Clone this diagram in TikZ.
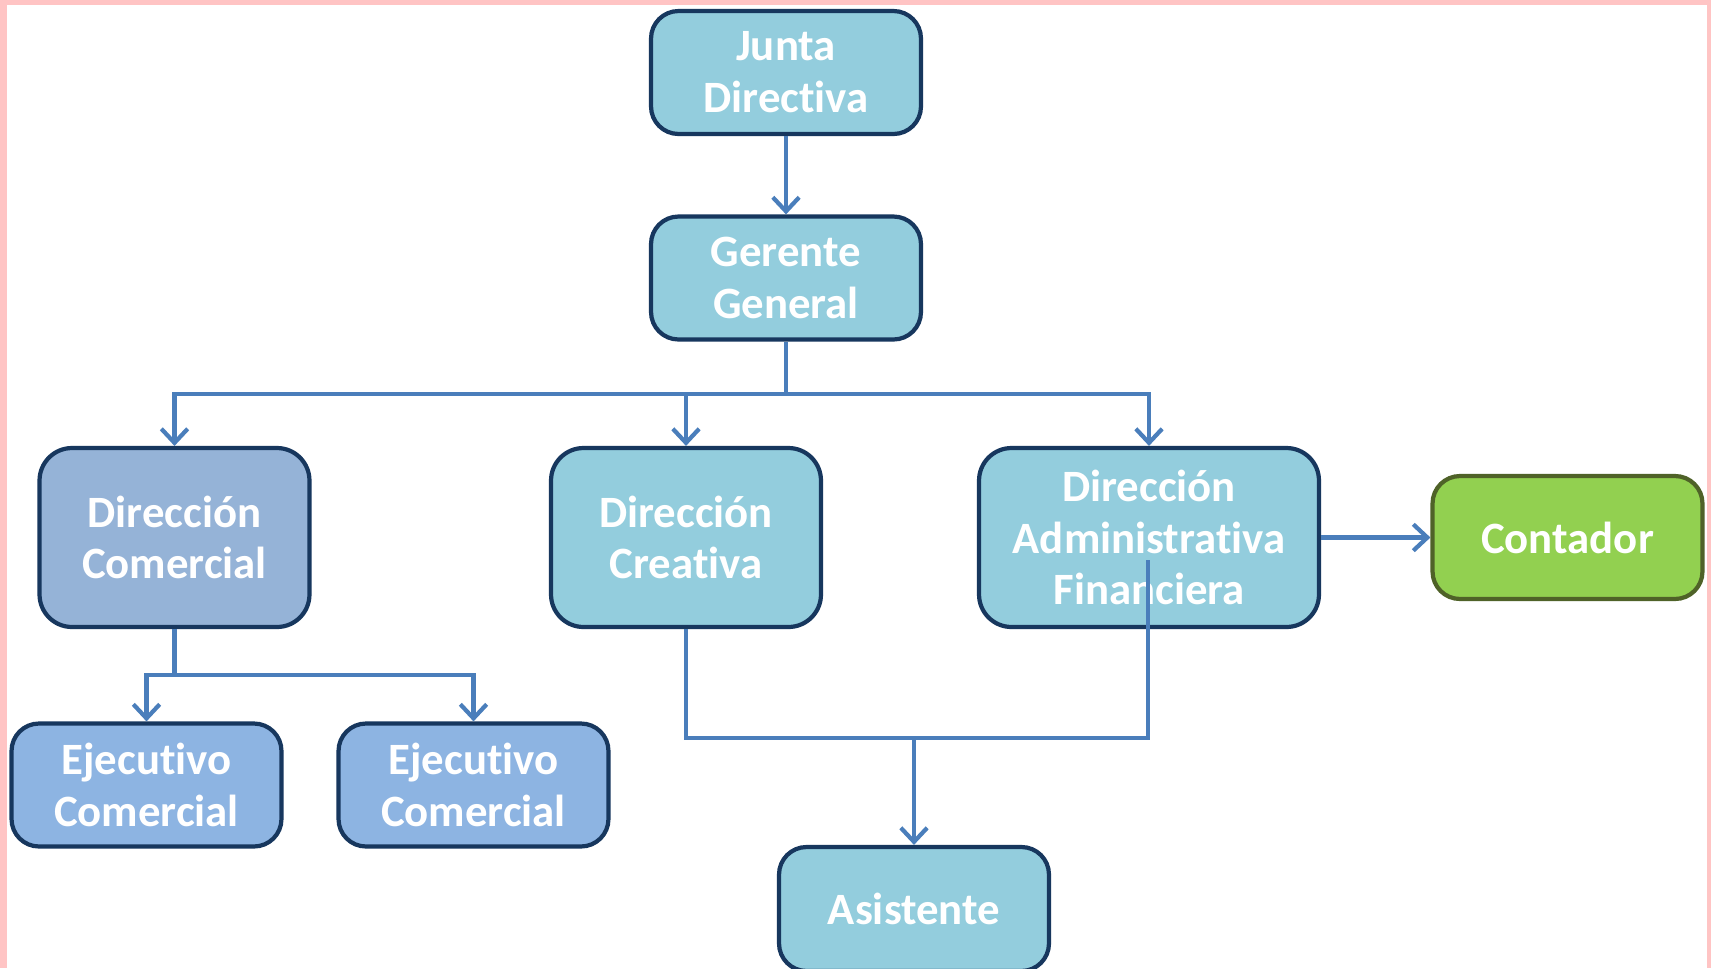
\documentclass[tikz,border=0pt]{standalone}
\usepackage{fontspec}
\setmainfont{Carlito}[Ligatures=NoCommon]
\usetikzlibrary{arrows.meta}
\definecolor{cajaazul}{RGB}{147,205,221}
\definecolor{cajacomer}{RGB}{149,179,215}
\definecolor{cajaejec}{RGB}{141,180,226}
\definecolor{cajaverde}{RGB}{146,208,80}
\definecolor{bordeazul}{RGB}{23,55,94}
\definecolor{bordeverde}{RGB}{79,98,40}
\definecolor{linea}{RGB}{74,126,187}
\definecolor{marco}{RGB}{255,196,196}
\tikzset{
	caja/.style={draw=bordeazul, fill=cajaazul, line width=2.4pt, rounded corners=0.55cm,
		text=white, align=center, inner sep=0pt,
		font=\bfseries\fontsize{25.5}{29.5}\selectfont,
		minimum width=5.4cm, minimum height=2.46cm},
	cajaalta/.style={caja, minimum height=3.58cm, rounded corners=0.65cm},
	enlace/.style={draw=linea, line width=2.4pt},
	flecha/.style={enlace, -{Straight Barb[length=8pt,width=15pt]}}
}

\begin{document}
\begin{tikzpicture}[x=0.02cm, y=-0.02cm]
		%%%%% START %%%%%
		
		\useasboundingbox (0, 0) rectangle (1711, 968);
		\fill[white] (0, 0) rectangle (1711, 968);
		
		% marco rosa
		\fill[marco] (0, 0) rectangle (1711, 5);
		\fill[marco] (0, 0) rectangle (7, 968);
		\fill[marco] (1707, 0) rectangle (1711, 968);
		
		\begin{scope}
		\clip (0, 0) rectangle (1711, 968);
		
		\node[caja] (junta) at (786, 72.5) {Junta\\Directiva};
		\node[caja] (gerente) at (786, 278) {Gerente\\General};
		
		\node[cajaalta, fill=cajacomer] (dircom) at (174.5, 537.5) {Dirección\\Comercial};
		\node[cajaalta] (dircre) at (686, 537.5) {Dirección\\Creativa};
		\node[cajaalta, minimum width=6.8cm] (admfin) at (1149, 537.5) {Dirección\\Administrativa\\Financiera};
		\node[caja, fill=cajaverde, draw=bordeverde] (contador) at (1567.5, 537.5) {Contador};
		
		\node[caja, fill=cajaejec] (ejec1) at (146.5, 785) {Ejecutivo\\Comercial};
		\node[caja, fill=cajaejec] (ejec2) at (473.5, 785) {Ejecutivo\\Comercial};
		
		\node[caja, minimum height=2.48cm] (asist) at (914, 909) {Asistente};
		
		% conectores
		\coordinate (bus1) at (786, 394);
		\coordinate (bus2) at (174.5, 675);
		\coordinate (bus3) at (914, 738);
		\coordinate (fin3) at (1148, 560);
		
		\draw[flecha] (junta) -- (gerente);
		
		\draw[enlace] (gerente) -- (bus1);
		\draw[flecha] (bus1) -| (dircom);
		\draw[flecha] (bus1) -| (dircre);
		\draw[flecha] (bus1) -| (admfin);
		
		\draw[enlace] (dircom) -- (bus2);
		\draw[flecha] (bus2) -| (ejec1);
		\draw[flecha] (bus2) -| (ejec2);
		
		\draw[enlace] (dircre.south) |- (fin3 |- bus3) -- (fin3);
		\draw[flecha] (bus3) -- (asist);
		
		\draw[flecha] (admfin) -- (contador);
		\end{scope}
		
		%%%%% END %%%%%
	\end{tikzpicture}
\end{document}
